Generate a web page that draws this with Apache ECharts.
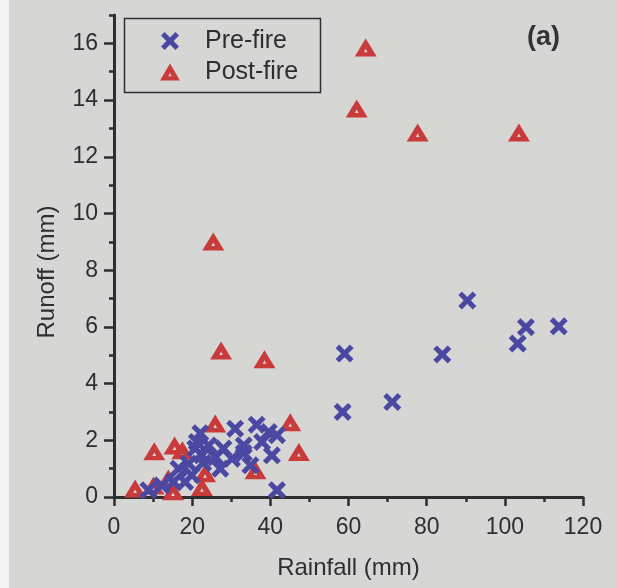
<!DOCTYPE html>
<html>
<head>
    <meta charset="utf-8">
    <title>Rainfall vs Runoff</title>
    <script src="https://cdn.jsdelivr.net/npm/echarts@6/dist/echarts.min.js"></script>
    <style>
        html, body { margin: 0; padding: 0; background: #f4f4f4; }
        #main { position: absolute; left: 9px; top: 0; width: 608px; height: 588px; }
    </style>
</head>
<body>
<div id="main"></div>
<script type="text/javascript">
    // pre-fire events: rainfall (mm) / runoff (mm)
    var preRain = [8.8, 12.2, 15.2, 16.5, 18.2, 19.1, 19.9, 20.8, 21.2, 22.1, 22.5, 22.8, 24.2, 26.0,
        27.2, 28.0, 30.2, 31.0, 33.2, 33.2, 34.9, 36.5, 37.9, 39.6, 40.4, 41.7, 41.7,
        58.5, 59.0, 71.2, 84.0, 90.4, 103.3, 105.4, 113.8];
    var preRunoff = [0.24, 0.41, 0.53, 1.0, 0.53, 1.18, 0.77, 1.71, 1.94, 2.25, 1.47, 1.2, 1.82, 1.4,
        1.0, 1.71, 1.35, 2.41, 1.82, 1.55, 1.12, 2.55, 1.94, 2.29, 1.47, 2.18, 0.24,
        3.0, 5.06, 3.35, 5.03, 6.93, 5.41, 5.99, 6.02];

    // post-fire events
    var postRain = [5.4, 10.1, 10.3, 13.9, 15.1, 15.5, 17.5, 22.5, 23.3, 25.9, 45.1, 47.3, 36.2,
        25.4, 27.4, 38.5, 62.1, 64.4, 77.7, 103.6];
    var postRunoff = [0.3, 0.41, 1.61, 0.65, 0.2, 1.82, 1.65, 0.35, 0.84, 2.59, 2.64, 1.59, 0.94,
        9.01, 5.17, 4.86, 13.7, 15.85, 12.86, 12.86];

    var xTicks = [0, 20, 40, 60, 80, 100, 120];
    var xMinorTicks = [10, 30, 50, 70, 90, 110];
    var yTicks = [0, 2, 4, 6, 8, 10, 12, 14, 16];
    var yMinorTicks = [1, 3, 5, 7, 9, 11, 13, 15, 17];

    function pairs(xs, ys) {
        return xs.map(function (x, i) { return [x, ys[i]]; });
    }

    var crossPath = 'path://M2,0 L5,3 L8,0 L10,2 L7,5 L10,8 L8,10 L5,7 L2,10 L0,8 L3,5 L0,2 Z';
    var trianglePath = 'path://M10,0 L20,17 L0,17 Z M10,9.5 L8.3,12.8 L11.7,12.8 Z';

    var font = 'Liberation Sans, Arial, sans-serif';
    var ink = '#2e2e2e';
    var blue = '#4b48a3';
    var red = '#c93a3b';

    function xAxisCfg(major) {
        return {
            type: 'value', min: 0, max: 120, position: 'bottom',
            name: major ? 'Rainfall (mm)' : '',
            nameLocation: 'middle', nameGap: 59,
            nameTextStyle: {fontFamily: font, fontSize: 24, color: ink},
            axisLine: {show: major, onZero: false, lineStyle: {color: ink, width: 3}},
            axisTick: {show: true, inside: false, length: major ? 9 : 5,
                customValues: major ? xTicks : xMinorTicks,
                lineStyle: {color: ink, width: 2.5}},
            axisLabel: {show: major, customValues: xTicks, margin: 19,
                fontFamily: font, fontSize: 23, color: ink},
            splitLine: {show: false}
        };
    }

    function yAxisCfg(major) {
        return {
            type: 'value', min: 0, max: 17, position: 'left',
            name: major ? 'Runoff (mm)' : '',
            nameLocation: 'middle', nameGap: 55,
            nameTextStyle: {fontFamily: font, fontSize: 24, color: ink, padding: [0, 32, 0, 0]},
            axisLine: {show: major, onZero: false, lineStyle: {color: ink, width: 3}},
            axisTick: {show: true, inside: false, length: major ? 10 : 5,
                customValues: major ? yTicks : yMinorTicks,
                lineStyle: {color: ink, width: 2.5}},
            axisLabel: {show: major, customValues: yTicks, margin: 16,
                fontFamily: font, fontSize: 23, color: ink},
            splitLine: {show: false}
        };
    }

    var myChart = echarts.init(document.getElementById('main'));

    var option = {
        backgroundColor: '#d6d6d4',
        animation: false,
        grid: {left: 105, right: 34, top: 15, bottom: 91},
        xAxis: [xAxisCfg(true), xAxisCfg(false)],
        yAxis: [yAxisCfg(true), yAxisCfg(false)],
        legend: {
            orient: 'vertical',
            left: 146, top: 23,
            itemWidth: 20, itemHeight: 18,
            itemGap: 5,
            textStyle: {fontFamily: font, fontSize: 25, lineHeight: 26, color: ink, padding: [0, 0, 0, 20]},
            data: [
                {name: 'Pre-fire', icon: crossPath},
                {name: 'Post-fire', icon: trianglePath}
            ]
        },
        graphic: [
            {
                type: 'rect', left: 113, top: 16,
                shape: {width: 196, height: 74},
                style: {fill: 'none', stroke: ink, lineWidth: 1.5}
            },
            {
                type: 'text', left: 518, top: 24,
                style: {text: '(a)', fontFamily: font, fontWeight: 'bold', fontSize: 27, fill: '#333'}
            }
        ],
        series: [
            {
                name: 'Post-fire',
                type: 'scatter',
                symbol: trianglePath,
                symbolSize: [22, 18],
                itemStyle: {color: red, opacity: 1},
                data: pairs(postRain, postRunoff)
            },
            {
                name: 'Pre-fire',
                type: 'scatter',
                symbol: crossPath,
                symbolSize: 18,
                itemStyle: {color: blue, opacity: 1},
                data: pairs(preRain, preRunoff)
            }
        ]
    };

    myChart.setOption(option);
</script>
</body>
</html>
